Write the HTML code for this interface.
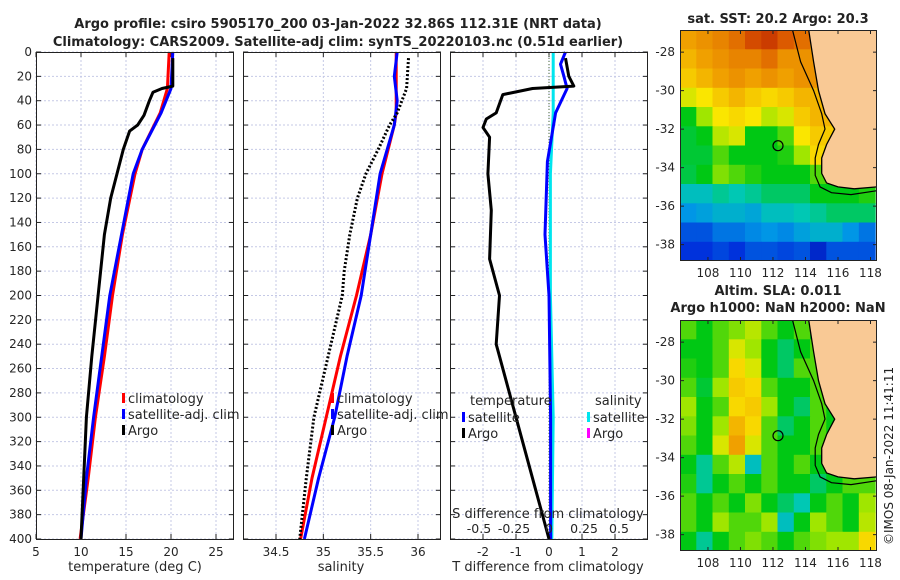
<!DOCTYPE html>
<html><head><meta charset="utf-8">
<style>
html,body{margin:0;padding:0;background:#fff;}
svg{display:block;font-family:"DejaVu Sans","Liberation Sans",sans-serif;}
</style></head>
<body>
<svg id="fig" width="900" height="580" viewBox="0 0 900 580" xmlns="http://www.w3.org/2000/svg">
<text x="338" y="28" text-anchor="middle" font-size="13" font-weight="bold" fill="#222">Argo profile: csiro 5905170_200 03-Jan-2022 32.86S 112.31E (NRT data)</text>
<text x="338" y="46" text-anchor="middle" font-size="13" font-weight="bold" fill="#222">Climatology: CARS2009. Satellite-adj clim: synTS_20220103.nc (0.51d earlier)</text>
<text x="778" y="23" text-anchor="middle" font-size="13" font-weight="bold" fill="#222">sat. SST: 20.2 Argo: 20.3</text>
<text x="778" y="295" text-anchor="middle" font-size="13" font-weight="bold" fill="#222">Altim. SLA: 0.011</text>
<text x="778" y="312" text-anchor="middle" font-size="13" font-weight="bold" fill="#222">Argo h1000: NaN h2000: NaN</text>
<text transform="translate(893,545) rotate(-90)" font-size="12" fill="#222">©IMOS 08-Jan-2022 11:41:11</text>
<g id="g"></g>
</svg>
<script>
// ---------- data ----------
const depthTicks=[0,20,40,60,80,100,120,140,160,180,200,220,240,260,280,300,320,340,360,380,400];
const tempTicks=[5,10,15,20,25];
const salTicks=[34.5,35,35.5,36];
const tdiffTicks=[-2,-1,0,1,2];
const sdiffTicks=[-0.5,-0.25,0,0.25,0.5];
const sdiffLabels=["-0.5","-0.25","0","0.25","0.5"];
const latTicks=[-28,-30,-32,-34,-36,-38];
const lonTicks=[108,110,112,114,116,118];

const climTDepth=[0,30,50,80,100,150,200,250,300,350,400];
const climTVal=[19.8,19.6,18.8,16.8,16.0,14.6,13.5,12.6,11.6,10.8,9.9];
const satTDepth=[0,30,50,80,100,150,200,250,300,350,400];
const satTVal=[20.2,20.0,18.9,16.8,15.8,14.5,13.2,12.3,11.4,10.6,10.0];
const argoTDepth=[5,28,30,33,40,52,60,65,80,100,120,150,200,250,300,350,400];
const argoTVal=[20.2,20.2,19.0,18.0,17.6,17.0,16.3,15.4,14.7,14.0,13.3,12.6,11.9,11.2,10.6,10.3,10.0];

const climSDepth=[0,50,60,100,150,200,250,300,350,400];
const climSVal=[35.77,35.77,35.75,35.62,35.5,35.35,35.18,35.03,34.88,34.76];
const satSDepth=[0,20,40,60,100,150,200,250,300,350,400];
const satSVal=[35.78,35.75,35.78,35.75,35.6,35.5,35.4,35.25,35.12,34.95,34.8];
const argoSDepth=[5,30,50,60,80,100,120,150,180,200,250,300,350,400];
const argoSVal=[35.9,35.88,35.78,35.7,35.58,35.45,35.36,35.28,35.22,35.2,35.05,34.9,34.82,34.75];

const argoDTDepth=[5,20,28,30,35,50,55,62,70,100,130,170,200,240,270,300,330,360,380,400];
const argoDTVal=[0.5,0.6,0.75,-0.5,-1.4,-1.6,-1.9,-2.0,-1.8,-1.85,-1.75,-1.8,-1.5,-1.6,-1.3,-1.0,-0.7,-0.4,-0.2,0.0];
const satDTDepth=[0,10,20,30,50,90,150,200,300,400];
const satDTVal=[0.5,0.35,0.45,0.55,0.2,-0.05,-0.12,0.0,0.05,0.05];
const satDSDepth=[0,50,100,200,300,400];
const satDSVal=[0.03,0.03,0.01,0.01,0.03,0.02];

const sstGrid=[
[.78,.8,.82,.85,.9,.92,.88,.85,.8,.8,.8,.8],
[.75,.78,.8,.82,.82,.85,.8,.8,.8,.8,.8,.8],
[.72,.75,.78,.8,.78,.8,.78,.8,.8,.8,.8,.8],
[.65,.68,.72,.75,.72,.7,.72,.75,.75,.75,.75,.75],
[.5,.6,.68,.7,.68,.62,.65,.72,.75,.75,.75,.75],
[.48,.5,.62,.65,.5,.5,.55,.68,.72,.72,.72,.72],
[.48,.48,.55,.5,.5,.5,.52,.6,.7,.7,.7,.7],
[.47,.5,.58,.55,.52,.5,.5,.5,.55,.62,.62,.62],
[.38,.38,.42,.4,.42,.45,.45,.45,.5,.5,.5,.52],
[.3,.32,.35,.35,.33,.38,.38,.4,.42,.45,.45,.45],
[.2,.2,.25,.25,.28,.3,.28,.32,.35,.35,.3,.25],
[.15,.15,.18,.15,.2,.2,.18,.2,.12,.2,.2,.2]];
const slaGrid=[
[.55,.5,.55,.58,.62,.55,.5,.55,.5,.5,.5,.5],
[.5,.5,.55,.65,.6,.5,.45,.5,.55,.5,.5,.5],
[.52,.5,.55,.7,.65,.5,.45,.55,.55,.5,.5,.5],
[.55,.48,.6,.72,.7,.55,.5,.5,.55,.5,.5,.5],
[.6,.5,.55,.7,.72,.6,.5,.45,.55,.5,.5,.5],
[.58,.5,.6,.75,.7,.55,.45,.5,.55,.5,.5,.5],
[.55,.5,.65,.78,.65,.55,.5,.5,.55,.5,.5,.5],
[.5,.42,.55,.62,.38,.55,.5,.55,.5,.5,.5,.5],
[.52,.42,.5,.55,.5,.55,.5,.5,.45,.5,.55,.55],
[.55,.5,.55,.5,.58,.5,.45,.4,.5,.55,.5,.6],
[.55,.5,.6,.55,.55,.6,.38,.5,.6,.55,.5,.62],
[.5,.42,.5,.55,.58,.55,.5,.55,.58,.6,.6,.7]];
const coastLon=[114.2,114.5,114.8,115.2,115.8,115.3,115.0,115.0,115.3,116.0,117.0,118.4];
const coastLat=[-26.85,-28.5,-30,-31.2,-32,-32.8,-33.5,-34.3,-34.8,-35.0,-35.1,-35.0];
const isoLon=[113.2,113.7,114.5,115.0,115.2,114.8,114.6,114.6,114.9,115.6,116.8,118.4];
const isoLat=[-26.85,-28.5,-30,-31.2,-32,-32.8,-33.5,-34.4,-35.0,-35.3,-35.4,-35.2];
const floatLon=112.31, floatLat=-32.86;

// ---------- drawing ----------
const NS="http://www.w3.org/2000/svg";
const G=document.getElementById('g');
function el(tag,attrs,parent){const e=document.createElementNS(NS,tag);for(const k in attrs)e.setAttribute(k,attrs[k]);(parent||G).appendChild(e);return e;}
function txt(s,x,y,attrs,parent){const e=el('text',Object.assign({x:x,y:y,'font-size':12,fill:'#262626'},attrs||{}),parent);e.textContent=s;return e;}
const Y0=52,Y1=539;
const yD=d=>Y0+(Y1-Y0)*d/400;
function lin(a0,a1,p0,p1){return v=>p0+(v-a0)*(p1-p0)/(a1-a0);}

function panel(name,x0,x1,xs,xticks,xlabels,ylabels){
  const g=el('g',{});
  
  
  xticks.forEach(t=>{const x=xs(t);el('line',{x1:x,y1:Y0,x2:x,y2:Y1,stroke:'#c5c9e6','stroke-width':1,'stroke-dasharray':'2,2'},g);});
  depthTicks.forEach(d=>{const y=yD(d);el('line',{x1:x0,y1:y,x2:x1,y2:y,stroke:'#c5c9e6','stroke-width':1,'stroke-dasharray':'2,2'},g);
    el('line',{x1:x0,y1:y,x2:x0+5,y2:y,stroke:'#222'},g);el('line',{x1:x1-5,y1:y,x2:x1,y2:y,stroke:'#222'},g);
    if(ylabels){const t=txt(String(d),x0-4,y+4,{'text-anchor':'end'},g);}});
  xticks.forEach((t,i)=>{const x=xs(t);el('line',{x1:x,y1:Y1,x2:x,y2:Y1-5,stroke:'#222'},g);el('line',{x1:x,y1:Y0,x2:x,y2:Y0+5,stroke:'#222'},g);
    const l=txt(xlabels[i],x,Y1+17,{'text-anchor':'middle'},g);});
  return g;
}
function border(x0,x1){el('rect',{x:x0+.5,y:Y0+.5,width:x1-x0-1,height:Y1-Y0,fill:'none',stroke:'#222','stroke-width':1});}
function line(depths,vals,xs,color,w,name,dash){
  const pts=depths.map((d,i)=>xs(vals[i]).toFixed(1)+','+yD(d).toFixed(1)).join(' ');
  const p=el('polyline',{points:pts,fill:'none',stroke:color,'stroke-width':w,'stroke-linejoin':'round'});
  if(dash)p.setAttribute('stroke-dasharray',dash);
  
  
}
function legend(x,y,items){items.forEach((it,i)=>{el('rect',{x:x,y:y+i*16-9,width:3,height:10,fill:it[1]});txt(it[0],x+6,y+i*16+1,{'font-size':13});});}

const xT=lin(5,27,36,234);
panel('temperature-panel',36,234,xT,tempTicks,tempTicks.map(String),true);
line(climTDepth,climTVal,xT,'#ff0000',3,'climatology-temp-line');
line(satTDepth,satTVal,xT,'#0000ff',3,'satellite-temp-line');
line(argoTDepth,argoTVal,xT,'#000',3,'argo-temp-line');
border(36,234);
txt('temperature (deg C)',135,571,{'text-anchor':'middle','font-size':13});
legend(122,402,[['climatology','#ff0000'],['satellite-adj. clim','#0000ff'],['Argo','#000']]);

const xS=lin(34.5,36,276,418);
panel('salinity-panel',243,441,xS,salTicks,salTicks.map(String),false);
line(climSDepth,climSVal,xS,'#ff0000',3,'climatology-sal-line');
line(satSDepth,satSVal,xS,'#0000ff',3,'satellite-sal-line');
line(argoSDepth,argoSVal,xS,'#000',3,'argo-sal-line','2,2');
border(243,441);
txt('salinity',341,571,{'text-anchor':'middle','font-size':13});
legend(331,402,[['climatology','#ff0000'],['satellite-adj. clim','#0000ff'],['Argo','#000']]);

const xD=lin(-3,3,450,648);
const xSD=lin(-0.5,0.5,479,619);
panel('difference-panel',450,648,xD,tdiffTicks,tdiffTicks.map(String),false);
el('line',{x1:xD(0),y1:Y0,x2:xD(0),y2:Y1,stroke:'#4a6a3a','stroke-width':1,'stroke-dasharray':'1,2'});
line(satDSDepth,satDSVal,xSD,'#00e5ee',3,'satellite-sal-diff-line');
line(satDTDepth,satDTVal,xD,'#0000ff',3,'satellite-temp-diff-line');
line(argoDTDepth,argoDTVal,xD,'#000',3,'argo-temp-diff-line');
border(450,648);
txt('T difference from climatology',548,571,{'text-anchor':'middle','font-size':13});
txt('S difference from climatology',548,518,{'text-anchor':'middle','font-size':13});
sdiffTicks.forEach((t,i)=>{const l=txt(sdiffLabels[i],xSD(t),533,{'text-anchor':'middle','font-size':12.5});});
txt('temperature',470,405,{'font-size':13});
legend(462,421,[['satellite','#0000ff'],['Argo','#000']]);
txt('salinity',595,405,{'font-size':13});
legend(587,421,[['satellite','#00e5ee'],['Argo','#ff00ff']]);

// ---------- maps ----------
const cmapStops=[[0,[0,0,130]],[0.15,[0,50,220]],[0.3,[0,150,230]],[0.4,[0,200,180]],[0.5,[0,200,20]],[0.6,[160,230,0]],[0.68,[250,230,0]],[0.78,[240,160,0]],[0.88,[220,90,0]],[1,[170,0,0]]];
function cmap(v){
  for(let i=1;i<cmapStops.length;i++){const a=cmapStops[i-1],b=cmapStops[i];
    if(v<=b[0]){const t=(v-a[0])/(b[0]-a[0]);const c=a[1].map((x,k)=>Math.round(x+(b[1][k]-x)*t));return 'rgb('+c.join(',')+')';}}
  return 'rgb(170,0,0)';
}
function map(name,top,grid){
  const x0=680,x1=877,y0=top,y1=top+231;
  const xl=lin(106.28,118.4,x0,x1), yl=lin(-26.85,-38.85,y0,y1);
  const g=el('g',{});
  
  
  const cp='clip-'+name;
  const c=el('clipPath',{id:cp},g);el('rect',{x:x0,y:y0,width:x1-x0,height:y1-y0},c);
  const cells=el('g',{'clip-path':'url(#'+cp+')'},g);
  grid.forEach((row,r)=>row.forEach((v,ci)=>{
    const lx=106.28+ci, la=-26.85-r;
    const cell=el('rect',{x:xl(lx).toFixed(1),y:yl(la).toFixed(1),width:(xl(lx+1)-xl(lx)+0.6).toFixed(1),height:(yl(la-1)-yl(la)+0.6).toFixed(1),fill:cmap(v)},cells);
    
    
  }));
  const land=coastLon.map((lo,i)=>xl(lo).toFixed(1)+','+yl(coastLat[i]).toFixed(1));
  const poly=el('polygon',{points:land.join(' ')+' '+xl(118.4)+','+yl(-26.85),fill:'#f9c995',stroke:'#000','stroke-width':1.3},cells);
  
  
  const iso=isoLon.map((lo,i)=>xl(lo).toFixed(1)+','+yl(isoLat[i]).toFixed(1)).join(' ');
  el('polyline',{points:iso,fill:'none',stroke:'#000','stroke-width':1.2},cells);
  const m=el('circle',{cx:xl(floatLon),cy:yl(floatLat),r:5,fill:'none',stroke:'#000','stroke-width':1.2},g);
  
  
  el('rect',{x:x0+.5,y:y0+.5,width:x1-x0-1,height:y1-y0-1,fill:'none',stroke:'#222'},g);
  latTicks.forEach(t=>{const y=yl(t);el('line',{x1:x0,y1:y,x2:x0+4,y2:y,stroke:'#222'},g);el('line',{x1:x1-4,y1:y,x2:x1,y2:y,stroke:'#222'},g);
    const l=txt(String(t),x0-5,y+4,{'text-anchor':'end'},g);});
  lonTicks.forEach(t=>{const x=xl(t);el('line',{x1:x,y1:y1,x2:x,y2:y1-4,stroke:'#222'},g);el('line',{x1:x,y1:y0,x2:x,y2:y0+4,stroke:'#222'},g);
    const l=txt(String(t),x,y1+16,{'text-anchor':'middle'},g);});
}
map('sst-map',30,sstGrid);
map('sla-map',320,slaGrid);
</script>
</body></html>
